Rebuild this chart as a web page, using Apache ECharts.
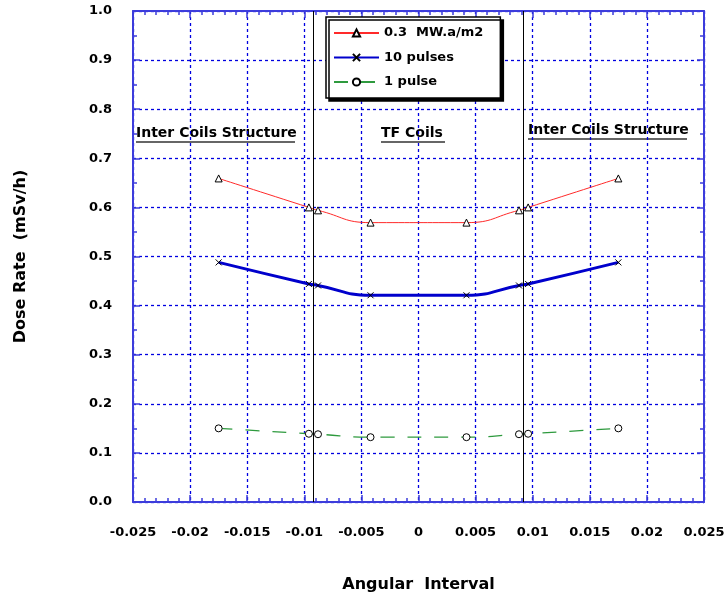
<!DOCTYPE html>
<html>
<head>
<meta charset="utf-8">
<title>Dose Rate</title>
<script src="https://cdn.jsdelivr.net/npm/echarts@6/dist/echarts.min.js"></script>
<style>
  html, body { margin: 0; padding: 0; background: #fff; }
  #chart { width: 725px; height: 603px; }
</style>
</head>
<body>
<div id="chart"></div>
<script>
// data
var angles = [-0.0175, -0.0096, -0.0088, -0.0042, 0.0042, 0.0088, 0.0096, 0.0175];
var highFlux = [0.659, 0.600, 0.594, 0.569, 0.569, 0.594, 0.600, 0.659];
var tenPulses = [0.488, 0.444, 0.441, 0.421, 0.421, 0.441, 0.444, 0.488];
var onePulse = [0.150, 0.139, 0.138, 0.132, 0.132, 0.138, 0.139, 0.150];
var seriesNames = ['0.3  MW.a/m2', '10 pulses', '1 pulse'];
var coilEdges = [-0.0092, 0.0092];
var regionLabels = ['Inter Coils Structure', 'TF Coils', 'Inter Coils Structure'];

var FONT = '"DejaVu Sans", Verdana, sans-serif';
var AXIS_BLUE = '#3c3cdc';
var GRID_BLUE = '#0000e0';

function pairs(ys) {
  var out = [];
  for (var i = 0; i < angles.length; i++) out.push([angles[i], ys[i]]);
  return out;
}

var chart = echarts.init(document.getElementById('chart'), null, { renderer: 'canvas' });

function baseAxis(min, max, step, pos, minorSplit) {
  return {
    type: 'value',
    min: min,
    max: max,
    interval: step,
    position: pos,
    axisLine: { show: true, onZero: false, lineStyle: { color: AXIS_BLUE, width: 2 } },
    axisTick: { show: true, inside: true, length: 7, lineStyle: { color: AXIS_BLUE, width: 1.5 } },
    minorTick: { show: true, splitNumber: minorSplit, length: 4, lineStyle: { color: AXIS_BLUE, width: 1.5 } },
    splitLine: { show: false },
    axisLabel: { show: false }
  };
}

var xMain = baseAxis(-0.025, 0.025, 0.005, 'bottom', 5);
xMain.splitLine = { show: true, lineStyle: { color: GRID_BLUE, width: 1.3, type: [3, 3] } };
xMain.axisLabel = { show: true, margin: 24, color: '#000', fontWeight: 'bold', fontSize: 13, fontFamily: FONT };
xMain.name = 'Angular  Interval';
xMain.nameLocation = 'middle';
xMain.nameGap = 75;
xMain.nameTextStyle = { color: '#000', fontWeight: 'bold', fontSize: 16, fontFamily: FONT };

var yMain = baseAxis(0, 1, 0.1, 'left', 2);
yMain.splitLine = { show: true, lineStyle: { color: GRID_BLUE, width: 1.3, type: [3, 3] } };
yMain.axisLabel = {
  show: true, margin: 21, color: '#000', fontWeight: 'bold', fontSize: 13, fontFamily: FONT,
  formatter: function (v) { return v.toFixed(1); }
};
yMain.name = 'Dose Rate  (mSv/h)';
yMain.nameLocation = 'middle';
yMain.nameGap = 104;
yMain.nameTextStyle = { color: '#000', fontWeight: 'bold', fontSize: 16, fontFamily: FONT };

var option = {
  animation: false,
  backgroundColor: '#fff',
  grid: { left: 133, right: 21, top: 11, bottom: 101, containLabel: false, outerBoundsMode: 'none' },
  xAxis: [xMain, baseAxis(-0.025, 0.025, 0.005, 'top', 5)],
  yAxis: [yMain, baseAxis(0, 1, 0.1, 'right', 2)],
  legend: {
    orient: 'vertical',
    left: 326,
    top: 17,
    padding: [9.5, 17, 9.5, 7],
    itemWidth: 45,
    itemHeight: 9,
    itemGap: 11.5,
    backgroundColor: '#fff',
    borderColor: '#000',
    borderWidth: 1.5,
    shadowColor: '#000',
    shadowBlur: 0,
    shadowOffsetX: 3,
    shadowOffsetY: 3,
    textStyle: { color: '#000', fontWeight: 'bold', fontSize: 13, fontFamily: FONT },
    data: seriesNames
  },
  graphic: [
    { type: 'text', left: 136, top: 126, style: { text: regionLabels[0], font: 'bold 14px ' + FONT, fill: '#000' } },
    { type: 'line', shape: { x1: 136, y1: 142, x2: 295, y2: 142 }, style: { stroke: '#333', lineWidth: 1.5 } },
    { type: 'text', left: 381, top: 126, style: { text: regionLabels[1], font: 'bold 14px ' + FONT, fill: '#000' } },
    { type: 'line', shape: { x1: 381, y1: 142, x2: 445, y2: 142 }, style: { stroke: '#333', lineWidth: 1.5 } },
    { type: 'text', left: 528, top: 123, style: { text: regionLabels[2], font: 'bold 14px ' + FONT, fill: '#000' } },
    { type: 'line', shape: { x1: 528, y1: 139, x2: 687, y2: 139 }, style: { stroke: '#333', lineWidth: 1.5 } }
  ],
  series: [
    {
      name: seriesNames[0],
      type: 'line',
      smooth: 0.5,
      data: pairs(highFlux),
      symbol: 'triangle',
      symbolSize: 7,
      lineStyle: { color: '#ff2a2a', width: 1 },
      itemStyle: { color: '#fff', borderColor: '#000', borderWidth: 1 },
      z: 3,
      markLine: {
        silent: true,
        precision: 5,
        symbol: ['none', 'none'],
        label: { show: false },
        lineStyle: { color: '#000', width: 1, type: 'solid' },
        data: coilEdges.map(function (v) { return { xAxis: v }; })
      }
    },
    {
      name: seriesNames[1],
      type: 'line',
      smooth: 0.5,
      data: pairs(tenPulses),
      symbol: 'path://M0,0L10,10M10,0L0,10',
      symbolSize: 6,
      lineStyle: { color: '#0000cc', width: 3 },
      itemStyle: { color: '#000', borderColor: '#000', borderWidth: 1 },
      z: 3
    },
    {
      name: seriesNames[2],
      type: 'line',
      smooth: 0.5,
      data: pairs(onePulse),
      symbol: 'circle',
      symbolSize: 7,
      lineStyle: { color: '#2e9a3e', width: 1.3, type: [14, 13] },
      itemStyle: { color: '#fff', borderColor: '#000', borderWidth: 1 },
      z: 3
    }
  ]
};

chart.setOption(option);
</script>
</body>
</html>
